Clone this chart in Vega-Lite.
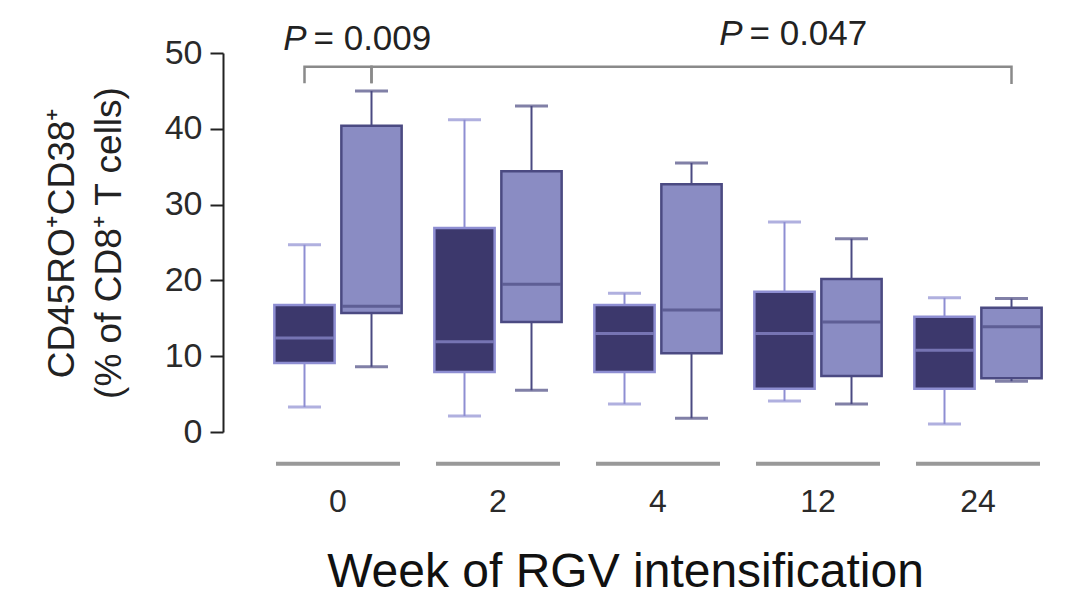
{
  "$schema": "https://vega.github.io/schema/vega-lite/v6.json",
  "width": 800,
  "height": 379,
  "autosize": {"type": "none"},
  "padding": {"left": 258, "top": 53, "right": 19, "bottom": 163},
  "background": "white",
  "config": {
    "view": {"stroke": null},
    "font": "Liberation Sans",
    "axisY": {
      "offset": 35,
      "grid": false,
      "tickCount": 5,
      "domainColor": "#222222",
      "domainWidth": 2,
      "tickColor": "#222222",
      "tickWidth": 2,
      "tickSize": 13,
      "labelFontSize": 34,
      "labelColor": "#2a2a2a",
      "labelPadding": 8,
      "titleFontSize": 37,
      "titleFontWeight": "normal",
      "titleColor": "#222222",
      "titleLineHeight": 47,
      "titlePadding": 36
    }
  },
  "datasets": {
    "boxes": [
      {"week": "0", "group": "A", "lower": 3.3, "q1": 9.1, "median": 12.4, "q3": 16.75, "upper": 24.7},
      {"week": "0", "group": "B", "lower": 8.6, "q1": 15.7, "median": 16.6, "q3": 40.4, "upper": 45.0},
      {"week": "2", "group": "A", "lower": 2.1, "q1": 7.9, "median": 11.9, "q3": 26.9, "upper": 41.2},
      {"week": "2", "group": "B", "lower": 5.5, "q1": 14.5, "median": 19.5, "q3": 34.4, "upper": 43.0},
      {"week": "4", "group": "A", "lower": 3.7, "q1": 7.9, "median": 13.0, "q3": 16.75, "upper": 18.3},
      {"week": "4", "group": "B", "lower": 1.8, "q1": 10.4, "median": 16.1, "q3": 32.7, "upper": 35.5},
      {"week": "12", "group": "A", "lower": 4.1, "q1": 5.7, "median": 13.0, "q3": 18.5, "upper": 27.7},
      {"week": "12", "group": "B", "lower": 3.7, "q1": 7.4, "median": 14.5, "q3": 20.2, "upper": 25.5},
      {"week": "24", "group": "A", "lower": 1.05, "q1": 5.7, "median": 10.8, "q3": 15.2, "upper": 17.7},
      {"week": "24", "group": "B", "lower": 6.7, "q1": 7.1, "median": 13.9, "q3": 16.4, "upper": 17.6}
    ],
    "brackets": [
      {"id": 1, "i": 1, "week": "0", "group": "A", "y": 46.0},
      {"id": 1, "i": 2, "week": "0", "group": "A", "y": 48.2},
      {"id": 1, "i": 3, "week": "0", "group": "B", "y": 48.2},
      {"id": 1, "i": 4, "week": "0", "group": "B", "y": 46.0},
      {"id": 2, "i": 1, "week": "0", "group": "B", "y": 46.0},
      {"id": 2, "i": 2, "week": "0", "group": "B", "y": 48.2},
      {"id": 2, "i": 3, "week": "24", "group": "B", "y": 48.2},
      {"id": 2, "i": 4, "week": "24", "group": "B", "y": 45.9}
    ],
    "annotations": [
      {"id": 1, "week": "0", "group": "A", "y": 50.4, "p": "P", "text": "= 0.009"},
      {"id": 2, "week": "12", "group": "A", "y": 51.0, "p": "P", "text": "= 0.047"}
    ]
  },
  "encoding": {
    "x": {
      "field": "week",
      "type": "ordinal",
      "scale": {"domain": ["0", "2", "4", "12", "24"], "paddingInner": 0, "paddingOuter": 0},
      "axis": {
        "title": "Week of RGV intensification",
        "domain": false,
        "ticks": false,
        "labelFontSize": 32,
        "labelColor": "#2a2a2a",
        "labelPadding": 54,
        "labelAngle": 0,
        "titleFontSize": 48,
        "titleFontWeight": "normal",
        "titleColor": "#111111",
        "titleBaseline": "alphabetic",
        "titleY": 154,
        "titleX": 367,
        "titleAlign": "center"
      }
    }
  },
  "layer": [
    {
      "data": {"name": "boxes"},
      "transform": [{"filter": "datum.group === 'A'"}],
      "mark": {"type": "tick", "orient": "horizontal", "size": 124, "thickness": 4, "color": "#6e6e6e"},
      "encoding": {
        "y": {"datum": -4.2, "type": "quantitative", "scale": {"domain": [0, 50], "nice": false, "zero": true}, "axis": {"title": ["CD45RO⁺CD38⁺", "(% of CD8⁺ T cells)"]}}
      }
    },
    {
      "data": {"name": "boxes"},
      "mark": {"type": "rule", "strokeWidth": 2},
      "encoding": {
        "xOffset": {"field": "group", "type": "nominal", "scale": {"domain": ["A", "B"], "paddingInner": 0.1, "paddingOuter": 0.244}},
        "y": {"field": "lower", "type": "quantitative", "axis": {"title": ["CD45RO⁺CD38⁺", "(% of CD8⁺ T cells)"]}},
        "y2": {"field": "upper"},
        "color": {"field": "group", "type": "nominal", "scale": {"domain": ["A", "B"], "range": ["#8e8ed2", "#4b4a82"]}, "legend": null}
      }
    },
    {
      "data": {"name": "boxes"},
      "mark": {"type": "tick", "orient": "horizontal", "size": 33, "thickness": 3},
      "encoding": {
        "xOffset": {"field": "group", "type": "nominal", "scale": {"domain": ["A", "B"], "paddingInner": 0.1, "paddingOuter": 0.244}},
        "y": {"field": "lower", "type": "quantitative", "axis": {"title": ["CD45RO⁺CD38⁺", "(% of CD8⁺ T cells)"]}},
        "color": {"field": "group", "type": "nominal", "legend": null}
      }
    },
    {
      "data": {"name": "boxes"},
      "mark": {"type": "tick", "orient": "horizontal", "size": 33, "thickness": 3},
      "encoding": {
        "xOffset": {"field": "group", "type": "nominal", "scale": {"domain": ["A", "B"], "paddingInner": 0.1, "paddingOuter": 0.244}},
        "y": {"field": "upper", "type": "quantitative", "axis": {"title": ["CD45RO⁺CD38⁺", "(% of CD8⁺ T cells)"]}},
        "color": {"field": "group", "type": "nominal", "legend": null}
      }
    },
    {
      "data": {"name": "boxes"},
      "mark": {"type": "bar", "strokeWidth": 2.5},
      "encoding": {
        "xOffset": {"field": "group", "type": "nominal", "scale": {"domain": ["A", "B"], "paddingInner": 0.1, "paddingOuter": 0.244}},
        "y": {"field": "q1", "type": "quantitative", "axis": {"title": ["CD45RO⁺CD38⁺", "(% of CD8⁺ T cells)"]}},
        "y2": {"field": "q3"},
        "fill": {"field": "group", "type": "nominal", "scale": {"domain": ["A", "B"], "range": ["#3c386c", "#8a8cc3"]}, "legend": null},
        "stroke": {"field": "group", "type": "nominal", "scale": {"domain": ["A", "B"], "range": ["#8e8ed2", "#4b4a82"]}, "legend": null}
      }
    },
    {
      "data": {"name": "boxes"},
      "mark": {"type": "tick", "orient": "horizontal", "size": 58, "thickness": 3},
      "encoding": {
        "xOffset": {"field": "group", "type": "nominal", "scale": {"domain": ["A", "B"], "paddingInner": 0.1, "paddingOuter": 0.244}},
        "y": {"field": "median", "type": "quantitative", "axis": {"title": ["CD45RO⁺CD38⁺", "(% of CD8⁺ T cells)"]}},
        "color": {"field": "group", "type": "nominal", "legend": null}
      }
    },
    {
      "data": {"name": "brackets"},
      "mark": {"type": "line", "color": "#8a8a8a", "strokeWidth": 2.5},
      "encoding": {
        "xOffset": {"field": "group", "type": "nominal", "scale": {"domain": ["A", "B"], "paddingInner": 0.1, "paddingOuter": 0.244}},
        "y": {"field": "y", "type": "quantitative", "axis": {"title": ["CD45RO⁺CD38⁺", "(% of CD8⁺ T cells)"]}},
        "detail": {"field": "id", "type": "nominal"},
        "order": {"field": "i", "type": "quantitative"}
      }
    },
    {
      "data": {"name": "annotations"},
      "transform": [{"filter": "datum.id === 1"}],
      "mark": {"type": "text", "fontStyle": "italic", "fontSize": 35, "align": "right", "baseline": "alphabetic", "dx": 2, "color": "#222222"},
      "encoding": {
        "xOffset": {"field": "group", "type": "nominal", "scale": {"domain": ["A", "B"], "paddingInner": 0.1, "paddingOuter": 0.244}},
        "y": {"field": "y", "type": "quantitative", "axis": {"title": ["CD45RO⁺CD38⁺", "(% of CD8⁺ T cells)"]}},
        "text": {"field": "p"}
      }
    },
    {
      "data": {"name": "annotations"},
      "transform": [{"filter": "datum.id === 1"}],
      "mark": {"type": "text", "fontSize": 35, "align": "left", "baseline": "alphabetic", "dx": 9, "color": "#222222"},
      "encoding": {
        "xOffset": {"field": "group", "type": "nominal", "scale": {"domain": ["A", "B"], "paddingInner": 0.1, "paddingOuter": 0.244}},
        "y": {"field": "y", "type": "quantitative", "axis": {"title": ["CD45RO⁺CD38⁺", "(% of CD8⁺ T cells)"]}},
        "text": {"field": "text"}
      }
    },
    {
      "data": {"name": "annotations"},
      "transform": [{"filter": "datum.id === 2"}],
      "mark": {"type": "text", "fontStyle": "italic", "fontSize": 35, "align": "right", "baseline": "alphabetic", "dx": -42, "color": "#222222"},
      "encoding": {
        "xOffset": {"field": "group", "type": "nominal", "scale": {"domain": ["A", "B"], "paddingInner": 0.1, "paddingOuter": 0.244}},
        "y": {"field": "y", "type": "quantitative", "axis": {"title": ["CD45RO⁺CD38⁺", "(% of CD8⁺ T cells)"]}},
        "text": {"field": "p"}
      }
    },
    {
      "data": {"name": "annotations"},
      "transform": [{"filter": "datum.id === 2"}],
      "mark": {"type": "text", "fontSize": 35, "align": "left", "baseline": "alphabetic", "dx": -35, "color": "#222222"},
      "encoding": {
        "xOffset": {"field": "group", "type": "nominal", "scale": {"domain": ["A", "B"], "paddingInner": 0.1, "paddingOuter": 0.244}},
        "y": {"field": "y", "type": "quantitative", "axis": {"title": ["CD45RO⁺CD38⁺", "(% of CD8⁺ T cells)"]}},
        "text": {"field": "text"}
      }
    }
  ]
}
